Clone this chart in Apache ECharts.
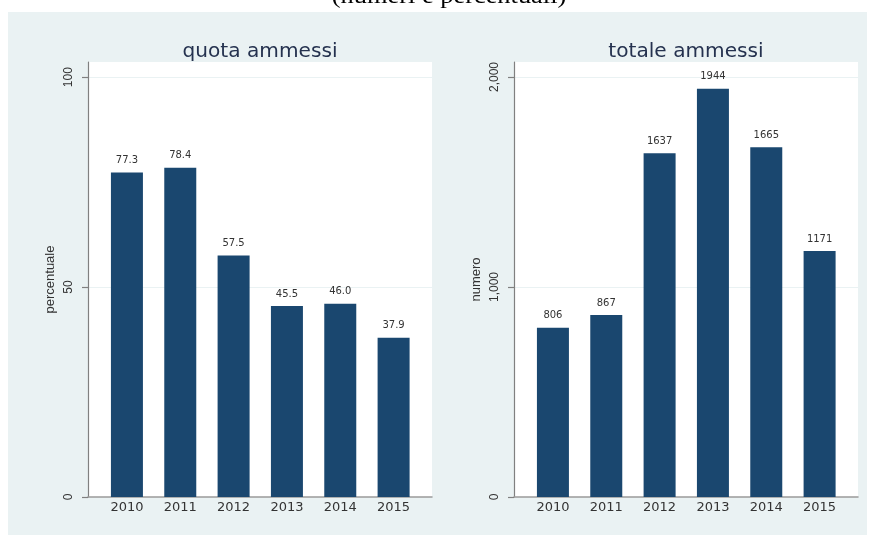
<!DOCTYPE html>
<html>
<head>
<meta charset="utf-8">
<script src="https://cdn.jsdelivr.net/npm/echarts@6/dist/echarts.min.js"></script>
<style>
  html, body { margin: 0; padding: 0; background: #ffffff; }
  #bg { position: absolute; left: 8px; top: 12px; width: 859px; height: 523px; background: #eaf2f3; }
  #chart { position: absolute; left: 0; top: 0; width: 876px; height: 537px; }
</style>
</head>
<body>
<div id="bg"></div>
<div id="chart"></div>
<script>
const years = [2010, 2011, 2012, 2013, 2014, 2015];
const quota = [77.3, 78.4, 57.5, 45.5, 46.0, 37.9];
const totale = [806, 867, 1637, 1944, 1665, 1171];
const quotaTicks = [0, 50, 100];
const totaleTicks = [0, 1000, 2000];

const barColor = '#1a476f';
const textColor = '#333333';

function xAxisCfg(gi) {
  return {
    type: 'value', gridIndex: gi, min: 2009.27, max: 2015.72,
    axisLine: { show: true, onZero: false, lineStyle: { color: '#9a9a9a', width: 1.5 } },
    axisTick: { show: false },
    splitLine: { show: false },
    axisLabel: {
      customValues: years, margin: 4, color: textColor,
      fontFamily: 'DejaVu Sans', fontSize: 13,
      formatter: v => String(v)
    }
  };
}
function yAxisCfg(gi, max, ticks, name, fmt) {
  return {
    type: 'value', gridIndex: gi, min: 0, max: max,
    name: name, nameLocation: 'middle', nameGap: 31, nameRotate: 90,
    nameTextStyle: { color: textColor, fontFamily: 'Liberation Sans', fontSize: 13 },
    axisLine: { show: true, lineStyle: { color: '#808080', width: 1.2 } },
    axisTick: { show: true, customValues: ticks, length: 6, lineStyle: { color: '#808080', width: 1.2 } },
    splitLine: { show: true, lineStyle: { color: '#eaf2f3', width: 1 } },
    axisLabel: {
      customValues: ticks, rotate: 90, margin: 13, color: textColor,
      fontFamily: 'Liberation Sans', fontSize: 12, formatter: fmt
    }
  };
}

const titleStyle = { fill: '#25324f', font: '19px "DejaVu Sans"', align: 'center', verticalAlign: 'alphabetic' };

const chart = echarts.init(document.getElementById('chart'), null, { renderer: 'canvas' });
chart.setOption({
  backgroundColor: 'transparent',
  animation: false,
  graphic: [
    { type: 'text', x: 449, y: -3, scaleX: 1.1,
      style: { text: '(numeri e percentuali)', fill: '#000', font: '24px "Liberation Serif"', align: 'center', verticalAlign: 'middle' } },
    { type: 'text', x: 260, y: 52, scaleX: 1.06,
      style: Object.assign({ text: 'quota ammessi' }, titleStyle, { verticalAlign: 'middle' }) },
    { type: 'text', x: 686, y: 52, scaleX: 1.06,
      style: Object.assign({ text: 'totale ammessi' }, titleStyle, { verticalAlign: 'middle' }) }
  ],
  grid: [
    { left: 88, width: 344, top: 62, height: 435, show: true, backgroundColor: '#ffffff', borderWidth: 0 },
    { left: 514, width: 344, top: 62, height: 435, show: true, backgroundColor: '#ffffff', borderWidth: 0 }
  ],
  xAxis: [xAxisCfg(0), xAxisCfg(1)],
  yAxis: [
    yAxisCfg(0, 103.6, quotaTicks, 'percentuale', v => String(v)),
    yAxisCfg(1, 2071.4, totaleTicks, 'numero', v => v.toLocaleString('en-US'))
  ],
  series: [
    {
      type: 'bar', xAxisIndex: 0, yAxisIndex: 0, barWidth: 32,
      data: years.map((y, i) => [y, quota[i]]),
      itemStyle: { color: barColor },
      label: { show: true, position: 'top', distance: 7, color: textColor,
        fontFamily: 'DejaVu Sans', fontSize: 10, formatter: p => p.value[1].toFixed(1) }
    },
    {
      type: 'bar', xAxisIndex: 1, yAxisIndex: 1, barWidth: 32,
      data: years.map((y, i) => [y, totale[i]]),
      itemStyle: { color: barColor },
      label: { show: true, position: 'top', distance: 7, color: textColor,
        fontFamily: 'DejaVu Sans', fontSize: 10, formatter: p => String(p.value[1]) }
    }
  ]
});
</script>
</body>
</html>
